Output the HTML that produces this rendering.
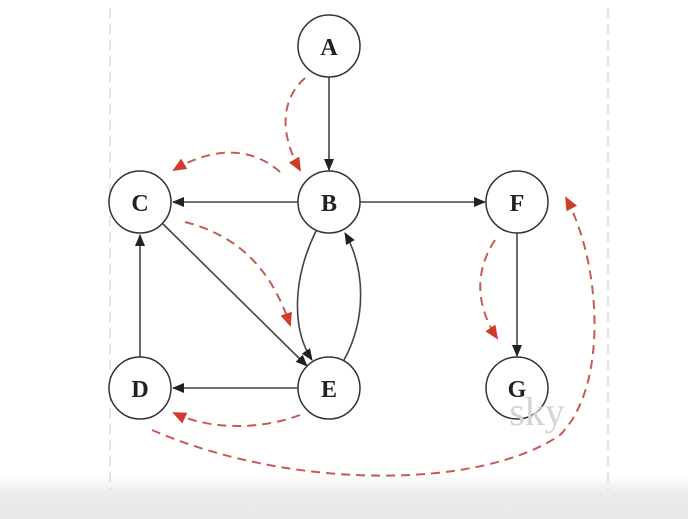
<!DOCTYPE html>
<html><head><style>
html,body{margin:0;padding:0;background:#fff;}
body{width:688px;height:519px;overflow:hidden;position:relative;}
.band{position:absolute;left:0;top:475px;width:688px;height:44px;background:linear-gradient(#fff,#ebebeb 45%,#e8e8e8);}
svg{position:absolute;left:0;top:0;}
text.n{font-family:"Liberation Serif",serif;font-size:24px;font-weight:bold;}
</style></head><body>
<div class="band"></div>
<svg width="688" height="519" viewBox="0 0 688 519">
<defs>
<marker id="k" markerWidth="12" markerHeight="10" refX="11" refY="5" orient="auto" markerUnits="userSpaceOnUse"><path d="M0,0 L12,5 L0,10 z" fill="#222"/></marker>
<marker id="r" markerWidth="14" markerHeight="12" refX="12" refY="6" orient="auto" markerUnits="userSpaceOnUse"><path d="M0,0 L14,6 L0,12 z" fill="#d23a2a"/></marker>
</defs>
<line x1="110" y1="8" x2="110" y2="490" stroke="#ccc" stroke-dasharray="10,6"/>
<line x1="608" y1="8" x2="608" y2="490" stroke="#ccc" stroke-dasharray="10,6"/>
<g stroke="#444" stroke-width="1.6" fill="none" marker-end="url(#k)">
<line x1="329" y1="77" x2="329" y2="170"/>
<line x1="298" y1="202" x2="173" y2="202"/>
<line x1="360" y1="202" x2="485" y2="202"/>
<line x1="517" y1="233" x2="517" y2="356"/>
<line x1="140" y1="357" x2="140" y2="235"/>
<line x1="298" y1="388" x2="173" y2="388"/>
<line x1="163" y1="224" x2="307" y2="366"/>
<path d="M316,231 C292,280 292,330 312,360"/>
<path d="M344,360 C366,320 366,270 345,233"/>
</g>
<g stroke="#c85a55" stroke-width="2" fill="none" stroke-dasharray="9,6" marker-end="url(#r)">
<path d="M305,78 C280,100 280,135 300,170"/>
<path d="M280,172 C250,145 210,148 174,170"/>
<path d="M185,222 C235,235 270,265 290,325"/>
<path d="M495,240 C475,270 475,305 497,338"/>
<path d="M300,415 C260,430 210,430 174,413"/>
<path d="M152,430 C290,490 480,490 560,435 C610,385 600,260 566,198"/>
</g>
<g stroke="#333" stroke-width="1.5" fill="#fff">
<circle cx="329" cy="46" r="31"/>
<circle cx="329" cy="202" r="31"/>
<circle cx="140" cy="202" r="31"/>
<circle cx="517" cy="202" r="31"/>
<circle cx="140" cy="388" r="31"/>
<circle cx="329" cy="388" r="31"/>
<circle cx="517" cy="388" r="31"/>
</g>
<g fill="#222" text-anchor="middle">
<text class="n" x="329" y="55">A</text>
<text class="n" x="329" y="211">B</text>
<text class="n" x="140" y="211">C</text>
<text class="n" x="517" y="211">F</text>
<text class="n" x="140" y="397">D</text>
<text class="n" x="329" y="397">E</text>
<text class="n" x="517" y="397">G</text>
</g>
<text x="537" y="425" fill="#d4d4d4" text-anchor="middle" style="font-family:'Liberation Serif',serif;font-size:40px;">sky</text>
</svg>
</body></html>
